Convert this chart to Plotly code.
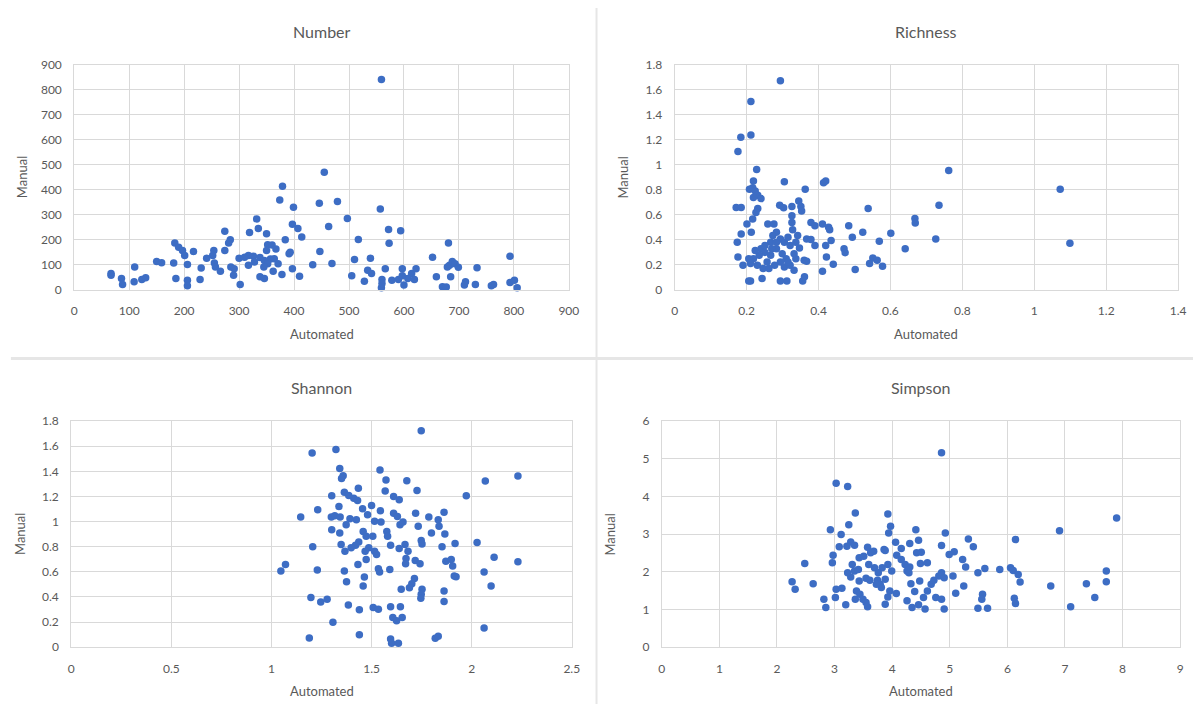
import plotly.graph_objects as go

# ---------------- data ----------------
number_auto = [559, 455, 379, 374, 399, 446, 479, 557, 497, 332, 274, 335, 319, 350, 397, 407, 414, 384, 463, 572,
               594, 573, 517, 284, 281, 274, 183, 190, 197, 201, 217, 254, 252, 241, 317, 352, 360, 367, 350, 391,
               447, 681, 793, 652, 539, 510, 300, 310, 326, 338, 357, 364, 346, 328, 352, 371, 393, 434, 469, 150,
               159, 181, 206, 110, 255, 257, 231, 266, 285, 291, 290, 317, 345, 362, 378, 397, 410, 338, 346, 302,
               229, 185, 206, 206, 67, 67, 86, 88, 109, 123, 130, 683, 688, 693, 699, 679, 685, 733, 659, 566,
               597, 614, 607, 622, 619, 560, 578, 590, 600, 559, 560, 670, 677, 712, 710, 730, 759, 763, 793, 801,
               806, 528, 505, 534, 541, 597]
number_manual = [841, 470, 414, 359, 330, 346, 353, 323, 286, 284, 235, 246, 230, 225, 263, 246, 212, 201, 254, 242,
                 237, 187, 202, 201, 188, 158, 188, 171, 158, 138, 154, 158, 138, 127, 138, 181, 180, 164, 158, 145,
                 154, 188, 135, 131, 127, 122, 127, 131, 135, 130, 124, 125, 118, 112, 105, 105, 151, 101, 106, 114,
                 109, 108, 102, 92, 108, 92, 88, 75, 92, 85, 59, 99, 92, 75, 62, 85, 55, 53, 46, 22,
                 42, 46, 39, 17, 66, 59, 46, 22, 33, 42, 49, 99, 114, 105, 91, 92, 53, 89, 53, 85,
                 85, 66, 46, 85, 42, 42, 39, 42, 20, 9, 26, 13, 12, 33, 20, 22, 17, 22, 30, 39,
                 9, 35, 57, 79, 66, 57]

richness_auto = [0.294, 0.212, 0.184, 0.212, 0.176, 0.228, 0.762, 1.072, 1.099, 0.735, 0.726, 0.668, 0.669, 0.641,
                 0.601, 0.538, 0.569, 0.523, 0.494, 0.484, 0.502, 0.471, 0.474, 0.542, 0.551, 0.563, 0.578, 0.420,
                 0.414, 0.363, 0.305, 0.345, 0.351, 0.353, 0.326, 0.292, 0.303, 0.217, 0.219, 0.208, 0.224, 0.231,
                 0.240, 0.219, 0.171, 0.185, 0.231, 0.226, 0.217, 0.201, 0.185, 0.213, 0.174, 0.176, 0.190, 0.206,
                 0.211, 0.243, 0.294, 0.312, 0.356, 0.361, 0.411, 0.422, 0.441, 0.379, 0.390, 0.411, 0.428, 0.431,
                 0.435, 0.420, 0.367, 0.379, 0.390, 0.360, 0.367, 0.347, 0.326, 0.328, 0.259, 0.276, 0.326, 0.240,
                 0.251, 0.235, 0.219, 0.230, 0.246, 0.257, 0.267, 0.273, 0.283, 0.294, 0.305, 0.315, 0.321, 0.283,
                 0.299, 0.310, 0.294, 0.278, 0.305, 0.321, 0.332, 0.337, 0.267, 0.262, 0.251, 0.224, 0.206, 0.211,
                 0.337, 0.342, 0.332, 0.315, 0.283, 0.270]
richness_manual = [1.673, 1.507, 1.220, 1.238, 1.107, 0.962, 0.954, 0.804, 0.374, 0.677, 0.408, 0.572, 0.535, 0.329,
                   0.453, 0.651, 0.390, 0.461, 0.421, 0.514, 0.163, 0.329, 0.298, 0.211, 0.256, 0.237, 0.190, 0.870,
                   0.856, 0.804, 0.864, 0.711, 0.667, 0.632, 0.667, 0.677, 0.656, 0.817, 0.870, 0.804, 0.790, 0.756,
                   0.730, 0.738, 0.659, 0.659, 0.651, 0.619, 0.567, 0.527, 0.448, 0.461, 0.382, 0.264, 0.198, 0.071,
                   0.071, 0.092, 0.071, 0.071, 0.071, 0.105, 0.150, 0.264, 0.206, 0.540, 0.514, 0.527, 0.501, 0.482,
                   0.395, 0.356, 0.408, 0.403, 0.356, 0.237, 0.229, 0.335, 0.540, 0.482, 0.527, 0.527, 0.593, 0.330,
                   0.300, 0.277, 0.250, 0.198, 0.171, 0.224, 0.382, 0.435, 0.461, 0.408, 0.382, 0.421, 0.356, 0.330,
                   0.290, 0.250, 0.224, 0.198, 0.184, 0.198, 0.158, 0.250, 0.277, 0.171, 0.356, 0.316, 0.250, 0.211,
                   0.382, 0.435, 0.290, 0.224, 0.382, 0.330]

shannon_auto = [1.748, 1.203, 1.322, 1.341, 1.358, 1.350, 1.542, 1.572, 1.676, 2.068, 2.231, 1.973, 1.727, 1.568,
                1.434, 1.364, 1.386, 1.411, 1.430, 1.301, 1.337, 1.231, 1.146, 1.299, 1.316, 1.343, 1.301, 1.341,
                1.455, 1.500, 1.544, 1.480, 1.515, 1.547, 1.424, 1.392, 1.373, 1.458, 1.473, 1.506, 1.576, 1.580,
                1.610, 1.629, 1.642, 1.657, 1.610, 1.638, 1.720, 1.733, 1.786, 1.799, 1.833, 1.837, 1.862, 1.866,
                1.748, 1.752, 1.852, 1.917, 2.027, 2.112, 2.231, 2.062, 2.097, 2.062, 1.871, 1.898, 1.905, 1.922,
                1.862, 1.862, 1.752, 1.748, 1.746, 1.714, 1.701, 1.689, 1.648, 1.667, 1.682, 1.672, 1.670, 1.718,
                1.742, 1.638, 1.595, 1.591, 1.534, 1.540, 1.525, 1.515, 1.486, 1.468, 1.473, 1.432, 1.464, 1.458,
                1.436, 1.420, 1.398, 1.367, 1.348, 1.364, 1.375, 1.384, 1.439, 1.508, 1.534, 1.595, 1.644, 1.606,
                1.625, 1.653, 1.595, 1.600, 1.634, 1.439, 1.307, 1.189, 1.197, 1.246, 1.278, 1.206, 1.229, 1.047,
                1.070, 1.818, 1.833, 1.913]
shannon_manual = [1.724, 1.547, 1.574, 1.423, 1.365, 1.344, 1.410, 1.331, 1.326, 1.323, 1.363, 1.205, 1.247, 1.244,
                  1.265, 1.234, 1.207, 1.186, 1.168, 1.205, 1.120, 1.094, 1.036, 1.036, 1.046, 1.036, 0.936, 0.909,
                  1.102, 1.128, 1.086, 1.054, 1.002, 0.996, 1.015, 1.023, 0.975, 0.922, 0.883, 0.883, 0.922, 0.883,
                  1.067, 1.041, 0.975, 0.996, 1.199, 1.173, 1.067, 0.962, 1.036, 0.909, 1.015, 0.962, 1.075, 0.901,
                  0.849, 0.822, 0.799, 0.825, 0.833, 0.717, 0.680, 0.598, 0.488, 0.153, 0.685, 0.698, 0.646, 0.561,
                  0.448, 0.364, 0.461, 0.422, 0.390, 0.548, 0.506, 0.474, 0.461, 0.817, 0.764, 0.706, 0.664, 0.691,
                  0.664, 0.785, 0.812, 0.619, 0.625, 0.598, 0.738, 0.764, 0.791, 0.764, 0.698, 0.659, 0.559, 0.488,
                  0.838, 0.812, 0.791, 0.764, 0.817, 0.606, 0.522, 0.337, 0.298, 0.316, 0.303, 0.322, 0.322, 0.237,
                  0.211, 0.237, 0.066, 0.032, 0.032, 0.100, 0.198, 0.074, 0.395, 0.361, 0.382, 0.799, 0.614, 0.606,
                  0.659, 0.071, 0.087, 0.567]

simpson_auto = [4.857, 3.027, 3.227, 3.360, 3.925, 3.247, 2.927, 3.114, 3.972, 3.939, 4.411, 4.923, 6.906, 7.897,
                6.141, 5.323, 5.409, 4.857, 4.458, 4.305, 4.059, 4.158, 3.859, 3.679, 3.573, 3.280, 3.347, 3.081,
                3.214, 2.974, 2.961, 2.482, 2.262, 2.315, 2.628, 2.814, 2.848, 3.014, 3.027, 3.127, 3.194, 3.360,
                3.380, 3.440, 3.493, 3.546, 3.573, 3.307, 3.280, 3.347, 3.413, 3.427, 3.506, 3.626, 3.546, 3.613,
                3.693, 3.759, 3.746, 3.792, 3.812, 3.879, 3.925, 3.992, 3.879, 3.925, 4.079, 4.158, 4.225, 4.258,
                4.305, 4.325, 4.391, 4.425, 4.505, 4.491, 4.611, 4.072, 4.258, 4.345, 4.458, 4.544, 4.571, 4.611,
                4.677, 4.724, 4.810, 4.857, 4.903, 4.757, 4.857, 4.903, 5.056, 4.990, 5.077, 5.223, 5.276, 5.243,
                5.103, 5.489, 5.609, 5.569, 5.556, 5.489, 5.656, 5.868, 6.055, 6.101, 6.188, 6.221, 6.121, 6.141,
                6.753, 7.099, 7.372, 7.518, 7.718, 7.718, 3.879, 4.291, 4.478, 3.726, 3.427, 3.227, 3.826, 3.593,
                3.959]
simpson_manual = [5.158, 4.350, 4.262, 3.559, 3.533, 3.251, 3.120, 2.988, 3.207, 3.032, 3.120, 3.032, 3.093, 3.427,
                  2.856, 2.873, 2.663, 2.698, 2.838, 2.750, 2.786, 2.619, 2.592, 2.548, 2.654, 2.794, 2.707, 2.663,
                  2.680, 2.443, 2.241, 2.223, 1.740, 1.538, 1.687, 1.274, 1.054, 1.318, 1.538, 1.564, 1.125, 1.274,
                  1.494, 1.406, 1.274, 1.186, 1.072, 2.197, 1.863, 2.021, 2.065, 2.373, 2.417, 2.504, 1.828, 1.775,
                  2.109, 1.977, 1.775, 1.670, 1.582, 1.801, 2.197, 2.021, 1.142, 1.336, 2.443, 2.329, 2.197, 2.021,
                  2.127, 1.687, 1.476, 2.504, 2.522, 2.223, 2.241, 1.424, 1.230, 1.054, 1.125, 1.318, 1.011, 1.494,
                  1.670, 1.775, 1.889, 1.977, 1.845, 1.318, 1.274, 1.011, 1.889, 2.460, 2.531, 2.329, 2.127, 1.626,
                  1.432, 1.977, 2.091, 1.406, 1.274, 1.037, 1.037, 2.065, 2.109, 2.039, 1.933, 1.731, 1.301, 1.160,
                  1.626, 1.072, 1.687, 1.318, 2.021, 1.740, 2.566, 1.977, 1.757, 1.670, 1.757, 1.977, 2.109, 2.197,
                  1.494]

titles = ["Number", "Richness", "Shannon", "Simpson"]
x_title = "Automated"
y_title = "Manual"

# ---------------- layout helpers ----------------
W, H = 1203, 711
TEXT = "#595959"
FONT = "Lato"
GRID = "#d9d9d9"
DOT = "#3d6dc4"

panels = [
    # data x, data y, x range, x dtick, y range, y dtick, plot box px (x0, x1, ytop, ybottom)
    (number_auto, number_manual, [0, 900], 100, [0, 900], 100, (72, 572, 58, 288)),
    (richness_auto, richness_manual, [0, 1.4], 0.2, [0, 1.8], 0.2, (679, 1188, 58, 288)),
    (shannon_auto, shannon_manual, [0, 2.5], 0.5, [0, 1.8], 0.2, (69, 575, 422, 653)),
    (simpson_auto, simpson_manual, [0, 9], 1, [0, 6], 1, (666, 1190, 422, 653)),
]

fig = go.Figure()
annotations = []
for i, (xs, ys, xr, xd, yr, yd, box) in enumerate(panels):
    n = "" if i == 0 else str(i + 1)
    x0, x1, yt, yb = box
    fig.add_trace(go.Scatter(x=xs, y=ys, mode="markers", xaxis="x" + n, yaxis="y" + n,
                             marker=dict(size=7.5, color=DOT), showlegend=False, cliponaxis=False))
    common = dict(showgrid=True, gridcolor=GRID, gridwidth=1, zeroline=False,
                  showline=True, linecolor=GRID, linewidth=1, mirror=True,
                  ticks="", tickfont=dict(family=FONT, size=12, color=TEXT), fixedrange=True)
    fig.update_layout(**{
        "xaxis" + n: dict(domain=[x0 / W, x1 / W], range=xr, dtick=xd, tick0=0,
                          anchor="y" + n, ticklabelstandoff=10, **common),
        "yaxis" + n: dict(domain=[1 - yb / H, 1 - yt / H], range=yr, dtick=yd, tick0=0,
                          anchor="x" + n, ticklabelstandoff=9, **common),
    })
    cx = (x0 + x1) / 2
    annotations.append(dict(text=titles[i], x=cx / W, y=1 - (yt - 34) / H, xref="paper", yref="paper",
                            showarrow=False, font=dict(family=FONT, size=16, color=TEXT),
                            xanchor="center", yanchor="middle"))
    annotations.append(dict(text=x_title, x=cx / W, y=1 - (yb + 45) / H, xref="paper", yref="paper",
                            showarrow=False, font=dict(family=FONT, size=13, color=TEXT),
                            xanchor="center", yanchor="middle"))
    annotations.append(dict(text=y_title, x=(x0 - 52) / W, y=1 - ((yt + yb) / 2) / H, xref="paper",
                            yref="paper", showarrow=False, textangle=-90,
                            font=dict(family=FONT, size=13, color=TEXT),
                            xanchor="center", yanchor="middle"))

shapes = [
    dict(type="line", xref="paper", yref="paper", x0=8 / W, x1=1, y0=1 - 358 / H, y1=1 - 358 / H,
         line=dict(color="#e6e6e6", width=3)),
    dict(type="line", xref="paper", yref="paper", x0=600 / W, x1=600 / W, y0=0, y1=1,
         line=dict(color="#e6e6e6", width=2)),
]

fig.update_layout(width=W, height=H, margin=dict(l=0, r=0, t=0, b=0),
                  paper_bgcolor="white", plot_bgcolor="white",
                  annotations=annotations, shapes=shapes)

fig.write_html("out.html")
